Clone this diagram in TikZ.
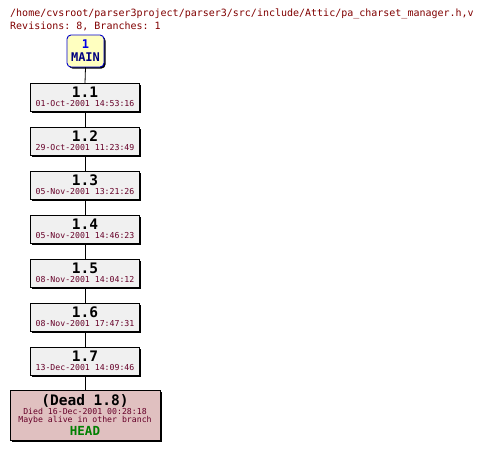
\documentclass[tikz,border=0pt]{standalone}
\usepackage{fontspec}
\setmonofont{DejaVu Sans Mono}
\usetikzlibrary{shadows}
\definecolor{hdr}{RGB}{128,0,0}
\definecolor{datec}{RGB}{102,0,40}
\definecolor{revfill}{RGB}{240,240,240}
\definecolor{deadfill}{RGB}{224,192,192}
\definecolor{mainfill}{RGB}{255,255,192}
\definecolor{mainborder}{RGB}{0,0,200}
\definecolor{headc}{RGB}{0,128,0}
\tikzset{
  shad/.style={drop shadow={shadow xshift=1.5pt,shadow yshift=-1.5pt,fill=black,opacity=1}},
  revbox/.style={draw=black,line width=0.8pt,fill=revfill,minimum width=109pt,minimum height=28pt,inner sep=0pt,shad},
  deadbox/.style={draw=black,line width=0.8pt,fill=deadfill,minimum width=150pt,minimum height=50pt,inner sep=0pt,shad},
  mainbox/.style={draw=mainborder,line width=0.9pt,fill=mainfill,rounded corners=4pt,minimum width=37pt,minimum height=32pt,inner sep=0pt,shad},
  hdrtxt/.style={anchor=base west,inner sep=0pt,text=hdr,font=\fontsize{10}{11}\ttfamily},
  numtxt/.style={anchor=base,inner sep=0pt,font=\fontsize{14.5}{15}\ttfamily\bfseries},
  datetxt/.style={anchor=base,inner sep=0pt,text=datec,font=\fontsize{8.2}{9}\ttfamily},
  conn/.style={draw=black,line width=0.8pt},
}
\begin{document}
\begin{tikzpicture}[x=1pt,y=-1pt]
\useasboundingbox (0,0) rectangle (482,451);
\node[hdrtxt] (h1) at (10,16.7) {/home/cvsroot/parser3project/parser3/src/include/Attic/pa\_charset\_manager.h,v};
\node[hdrtxt] (h2) at (10,29) {Revisions: 8, Branches: 1};
% MAIN
\node[mainbox] (m) at (85.5,51) {};
\node[anchor=base,inner sep=0pt,text={rgb,255:red,0;green,0;blue,230},font=\fontsize{12}{12}\ttfamily\bfseries] (m1) at (85.5,48.3) {1};
\node[anchor=base,inner sep=0pt,text={rgb,255:red,0;green,0;blue,128},font=\fontsize{12}{12}\ttfamily\bfseries] (m2) at (85.5,61.7) {MAIN};
% revisions
\foreach \i/\r/\d in {1/1.1/01-Oct-2001 14:53:16,2/1.2/29-Oct-2001 11:23:49,3/1.3/05-Nov-2001 13:21:26,4/1.4/05-Nov-2001 14:46:23,5/1.5/08-Nov-2001 14:04:12,6/1.6/08-Nov-2001 17:47:31,7/1.7/13-Dec-2001 14:09:46}{
  \pgfmathsetmacro{\yc}{97.5+44*(\i-1)}
  \node[revbox] (r\i) at (85,\yc) {};
  \node[numtxt] (r\i n) at (85,\yc-0.2) {\r};
  \node[datetxt] (r\i d) at (85,\yc+9.2) {\d};
}
% dead
\node[deadbox] (dead) at (85,415) {};
\node[numtxt] (dn) at (85,405) {(Dead 1.8)};
\node[datetxt] (dd) at (85,414.7) {Died 16-Dec-2001 00:28:18};
\node[datetxt] (dm) at (85,422.7) {Maybe alive in other branch};
\node[anchor=base,inner sep=0pt,text=headc,font=\fontsize{12.5}{13}\ttfamily\bfseries] (hd) at (85,435) {HEAD};
% connectors
\draw[conn] (m.south) -- (r1.north);
\draw[conn] (r1.south) -- (r2.north);
\draw[conn] (r2.south) -- (r3.north);
\draw[conn] (r3.south) -- (r4.north);
\draw[conn] (r4.south) -- (r5.north);
\draw[conn] (r5.south) -- (r6.north);
\draw[conn] (r6.south) -- (r7.north);
\draw[conn] (r7.south) -- (dead.north);
\end{tikzpicture}
\end{document}
